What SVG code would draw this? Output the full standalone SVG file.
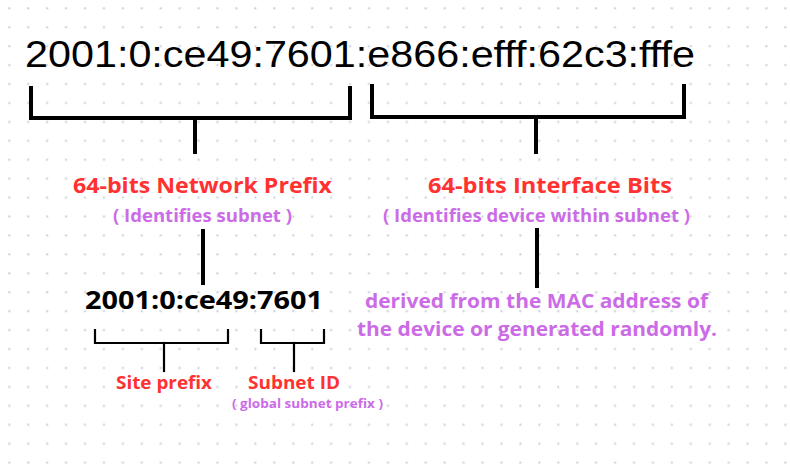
<svg xmlns="http://www.w3.org/2000/svg" width="790" height="467" viewBox="0 0 790 467">
<defs>
<pattern id="dots" patternUnits="userSpaceOnUse" x="0" y="0" width="18.93" height="18.93">
<rect x="8.3" y="7.3" width="2" height="2" fill="#c9cdd5"/>
</pattern>
<style>
.addr{font-family:"Liberation Sans",Arial,sans-serif;font-size:37px;fill:#000}
.red{font-family:"Open Sans","Liberation Sans",sans-serif;font-weight:700;fill:#ff3131}
.pur{font-family:"Open Sans","Liberation Sans",sans-serif;font-weight:700;fill:#cb6ce6}
.blk{font-family:"Open Sans","Liberation Sans",sans-serif;font-weight:700;fill:#000}
.thick{fill:none;stroke:#000;stroke-width:4;stroke-linecap:square}
.thin{fill:none;stroke:#000;stroke-width:2.2;stroke-linecap:square}
</style>
</defs>
<rect width="790" height="467" fill="#fff"/>
<rect width="790" height="467" fill="url(#dots)"/>

<g id="address">
<text class="addr" x="25" y="67" textLength="670" lengthAdjust="spacingAndGlyphs">2001:0:ce49:7601:e866:efff:62c3:fffe</text>
</g>

<g id="connectors">
<path class="thick" d="M31,88 V118 H350 V88"/>
<path class="thick" d="M195,118 V152"/>
<path class="thick" d="M372,86 V117 H684 V86"/>
<path class="thick" d="M536,117 V152"/>
<path class="thick" d="M203,231 V283"/>
<path class="thick" d="M537,230 V286"/>
<path class="thin" d="M95,330 V343 H228 V330"/>
<path class="thin" d="M164,343 V371"/>
<path class="thin" d="M261,330 V343 H324 V330"/>
<path class="thin" d="M294,343 V371"/>
</g>

<g id="network-prefix">
<text class="red" x="73" y="193" font-size="21.5" textLength="259" lengthAdjust="spacingAndGlyphs">64-bits Network Prefix</text>
<text class="pur" x="113" y="222" font-size="17" textLength="179" lengthAdjust="spacingAndGlyphs">( Identifies subnet )</text>
</g>

<g id="interface-bits">
<text class="red" x="428" y="193" font-size="21.5" textLength="244" lengthAdjust="spacingAndGlyphs">64-bits Interface Bits</text>
<text class="pur" x="383" y="222" font-size="17" textLength="307" lengthAdjust="spacingAndGlyphs">( Identifies device within subnet )</text>
</g>

<g id="prefix-detail">
<text class="blk" x="85" y="309" font-size="25" textLength="238" lengthAdjust="spacingAndGlyphs">2001:0:ce49:7601</text>
</g>

<g id="interface-detail">
<text class="pur" x="365" y="308" font-size="20" textLength="343" lengthAdjust="spacingAndGlyphs">derived from the MAC address of</text>
<text class="pur" x="357" y="336" font-size="20" textLength="360" lengthAdjust="spacingAndGlyphs">the device or generated randomly.</text>
</g>

<g id="site-prefix">
<text class="red" x="116" y="389" font-size="17.5" textLength="96" lengthAdjust="spacingAndGlyphs">Site prefix</text>
</g>

<g id="subnet-id">
<text class="red" x="248" y="389" font-size="17.5" textLength="92" lengthAdjust="spacingAndGlyphs">Subnet ID</text>
<text class="pur" x="232" y="408" font-size="11.5" textLength="151" lengthAdjust="spacingAndGlyphs">( global subnet prefix )</text>
</g>
</svg>
